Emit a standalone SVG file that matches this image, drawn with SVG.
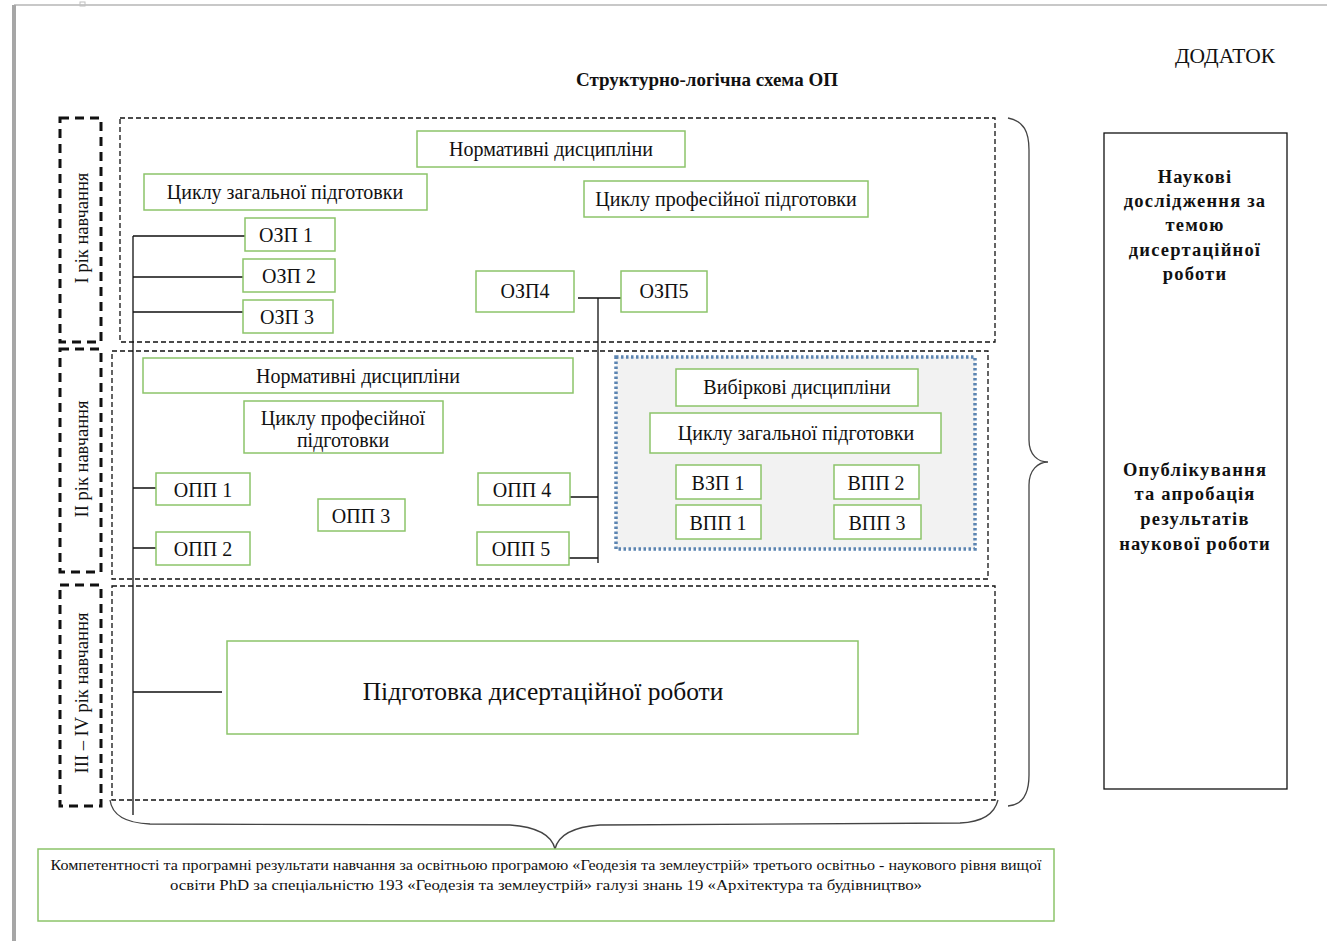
<svg xmlns="http://www.w3.org/2000/svg" width="1327" height="941" viewBox="0 0 1327 941">
<style>
text{font-family:"Liberation Serif","Times New Roman",serif;fill:#111}
.b{fill:#fff;stroke:#8cc46a;stroke-width:1.5}
.t{font-size:20px;text-anchor:middle}
.sec{fill:none;stroke:#111;stroke-width:1.3;stroke-dasharray:5 3}
.yr{fill:none;stroke:#111;stroke-width:3;stroke-dasharray:9 6}
.yt{font-size:18.5px;text-anchor:middle}
.ln{fill:none;stroke:#111;stroke-width:1.3}
.br{fill:none;stroke:#444;stroke-width:1.3}
.rb{font-size:18.5px;font-weight:bold;text-anchor:middle;letter-spacing:1.2px}
</style>
<rect width="1327" height="941" fill="#fff"/>
<g id="page">
<line x1="14" y1="5" x2="1327" y2="5" stroke="#c8c8c8" stroke-width="2"/>
<line x1="14" y1="5" x2="14" y2="941" stroke="#a6a6a6" stroke-width="4"/>
<rect x="80" y="2" width="5" height="4" fill="none" stroke="#c0c0c0" stroke-width="1"/>
</g>
<g id="header">
<text x="1225" y="63" font-size="21.5" text-anchor="middle">ДОДАТОК</text>
<text x="707" y="86" font-size="19" font-weight="bold" text-anchor="middle">Структурно-логічна схема ОП</text>
</g>
<g id="years">
<g id="year1"><rect class="yr" x="60" y="118" width="41" height="224"/><text class="yt" transform="translate(88,228) rotate(-90)">I рік навчання</text></g>
<g id="year2"><rect class="yr" x="60" y="349" width="41" height="223"/><text class="yt" transform="translate(88,459) rotate(-90)">II рік навчання</text></g>
<g id="year3"><rect class="yr" x="60" y="585" width="41" height="221"/><text class="yt" transform="translate(88,693) rotate(-90)">III – IV рік навчання</text></g>
</g>
<g id="sections">
<rect class="sec" x="120" y="118" width="875" height="224"/>
<rect class="sec" x="112" y="351" width="876" height="228"/>
<rect class="sec" x="112" y="586" width="883" height="214"/>
</g>
<g id="connectors">
<path class="ln" d="M133,236 V815 M133,236 H245 M133,277 H243 M133,312 H243 M133,488 H156 M133,548 H156 M133,692 H222"/>
<path class="ln" d="M578,298 H621 M598,298 V563 M570,497 H598 M569,558 H598"/>
<path class="br" d="M1008,118 C1024,121 1029,132 1029,150 L1029,440 C1029,455 1038,462 1048,462 C1038,462 1029,470 1029,485 L1029,775 C1029,795 1022,805 1008,806"/>
<path class="br" d="M110,800 C112,815 125,823 150,824 L510,825 C538,827 552,836 555,849 C558,836 572,827 600,825 L960,823 C985,822 995,812 998,800"/>
</g>
<g id="n-norm1"><rect class="b" x="417" y="131" width="268" height="36"/><text class="t" x="551" y="156">Нормативні дисципліни</text></g>
<g id="n-czp1"><rect class="b" x="144" y="174" width="283" height="36"/><text class="t" x="285" y="199">Циклу загальної підготовки</text></g>
<g id="n-cpp1"><rect class="b" x="584" y="181" width="284" height="36"/><text class="t" x="726" y="206">Циклу професійної підготовки</text></g>
<g id="n-ozp1"><rect class="b" x="245" y="218" width="90" height="33"/><text class="t" x="286" y="242">ОЗП 1</text></g>
<g id="n-ozp2"><rect class="b" x="243" y="259" width="92" height="33"/><text class="t" x="289" y="283">ОЗП 2</text></g>
<g id="n-ozp3"><rect class="b" x="243" y="300" width="90" height="33"/><text class="t" x="287" y="324">ОЗП 3</text></g>
<g id="n-ozp4"><rect class="b" x="476" y="271" width="98" height="41"/><text class="t" x="525" y="298">ОЗП4</text></g>
<g id="n-ozp5"><rect class="b" x="621" y="271" width="86" height="41"/><text class="t" x="664" y="298">ОЗП5</text></g>
<g id="n-norm2"><rect class="b" x="143" y="358" width="430" height="35"/><text class="t" x="358" y="383">Нормативні дисципліни</text></g>
<g id="n-cpp2"><rect class="b" x="244" y="401" width="199" height="52"/><text class="t" x="343" y="425">Циклу професійної</text><text class="t" x="343" y="447">підготовки</text></g>
<g id="n-opp1"><rect class="b" x="156" y="473" width="94" height="32"/><text class="t" x="203" y="497">ОПП 1</text></g>
<g id="n-opp2"><rect class="b" x="156" y="532" width="94" height="33"/><text class="t" x="203" y="556">ОПП 2</text></g>
<g id="n-opp3"><rect class="b" x="318" y="499" width="87" height="32"/><text class="t" x="361" y="523">ОПП 3</text></g>
<g id="n-opp4"><rect class="b" x="478" y="473" width="92" height="32"/><text class="t" x="522" y="497">ОПП 4</text></g>
<g id="n-opp5"><rect class="b" x="477" y="532" width="92" height="33"/><text class="t" x="521" y="556">ОПП 5</text></g>
<g id="elective">
<rect x="616" y="357" width="359" height="192" fill="#f2f2f2" stroke="#5b84b1" stroke-width="3.5" stroke-dasharray="2.5 2.5"/>
<g id="n-vyb"><rect class="b" x="676" y="369" width="242" height="37"/><text class="t" x="797" y="394">Вибіркові дисципліни</text></g>
<g id="n-czp2"><rect class="b" x="650" y="413" width="291" height="40"/><text class="t" x="796" y="440">Циклу загальної підготовки</text></g>
<g id="n-vzp1"><rect class="b" x="676" y="465" width="85" height="34"/><text class="t" x="718" y="490">ВЗП 1</text></g>
<g id="n-vpp2"><rect class="b" x="834" y="465" width="85" height="34"/><text class="t" x="876" y="490">ВПП 2</text></g>
<g id="n-vpp1"><rect class="b" x="676" y="505" width="85" height="34"/><text class="t" x="718" y="530">ВПП 1</text></g>
<g id="n-vpp3"><rect class="b" x="834" y="505" width="87" height="34"/><text class="t" x="877" y="530">ВПП 3</text></g>
</g>
<g id="n-dis"><rect class="b" x="227" y="641" width="631" height="93"/><text x="543" y="700" font-size="25.5" text-anchor="middle">Підготовка дисертаційної роботи</text></g>
<g id="n-right">
<rect x="1104" y="133" width="183" height="656" fill="#fff" stroke="#111" stroke-width="1.3"/>
<text class="rb" x="1195" y="183">Наукові</text>
<text class="rb" x="1195" y="207">дослідження за</text>
<text class="rb" x="1195" y="231">темою</text>
<text class="rb" x="1195" y="256">дисертаційної</text>
<text class="rb" x="1195" y="280">роботи</text>
<text class="rb" x="1195" y="476">Опублікування</text>
<text class="rb" x="1195" y="500">та апробація</text>
<text class="rb" x="1195" y="525">результатів</text>
<text class="rb" x="1195" y="550">наукової роботи</text>
</g>
<g id="n-bottom">
<rect class="b" x="38" y="849" width="1016" height="72"/>
<text x="546" y="870" font-size="14" text-anchor="middle" textLength="991" lengthAdjust="spacingAndGlyphs">Компетентності та програмні результати навчання за освітньою програмою «Геодезія та землеустрій» третього освітньо - наукового рівня вищої</text>
<text x="546" y="890" font-size="14" text-anchor="middle" textLength="752" lengthAdjust="spacingAndGlyphs">освіти PhD за спеціальністю 193 «Геодезія та землеустрій» галузі знань 19 «Архітектура та будівництво»</text>
</g>
</svg>
